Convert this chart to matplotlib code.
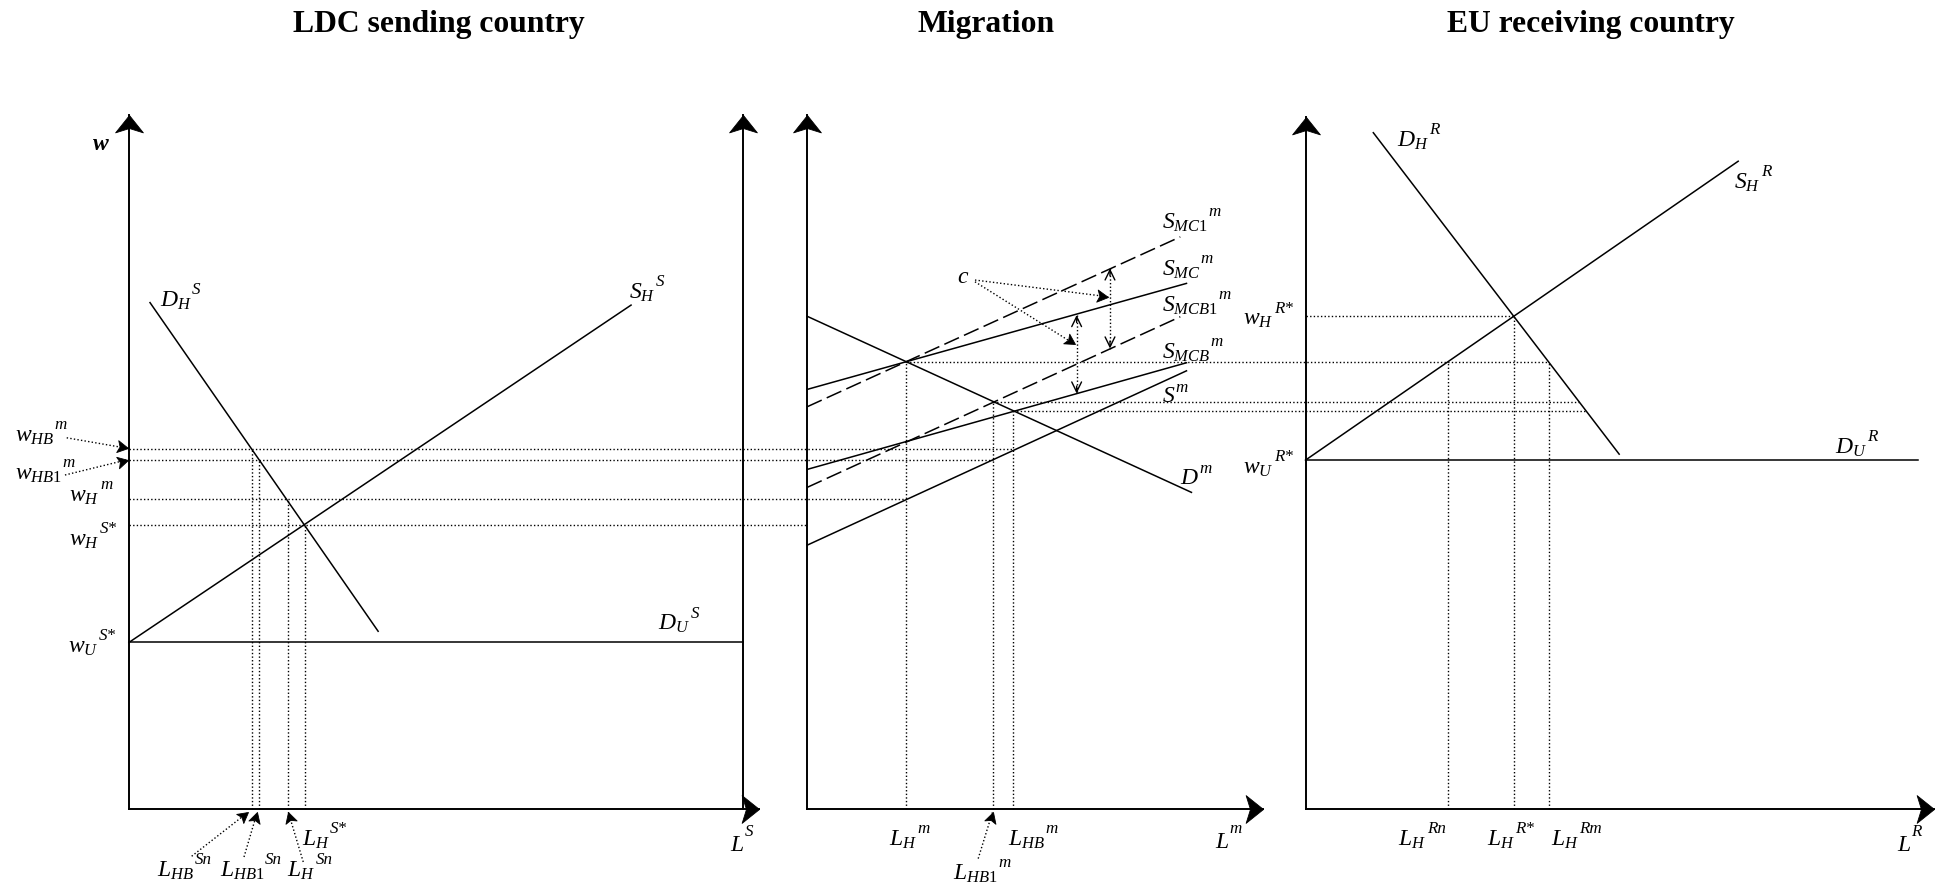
import numpy as np
import matplotlib
matplotlib.use("Agg")
import matplotlib.pyplot as plt
from matplotlib.path import Path

plt.rcParams['font.family'] = 'Liberation Serif'
plt.rcParams['mathtext.fontset'] = 'custom'
plt.rcParams['mathtext.rm'] = 'Liberation Serif'
plt.rcParams['mathtext.it'] = 'Liberation Serif:italic'
plt.rcParams['mathtext.bf'] = 'Liberation Serif:bold:italic'

# ---- data (x: position along the sheet, w: height above the L axis) ----
titles = ["LDC sending country", "Migration", "EU receiving country"]
origin_x = [104, 651, 1053]        # where each w axis stands
axis_top = [559, 559, 558]
axis_len = [508, 368, 507]
right_axis_L = 495                 # second vertical axis of the sending panel

# sending country
DHS_L = [17, 201];   DHS_w = [408, 143]
SHS_L = [0, 405];    SHS_w = [134, 406]
DUS_L = [0, 495];    DUS_w = [134, 134]
w_HB_m, w_HB1_m, w_H_m, w_H_Sstar = 289.6, 281.5, 249.5, 228.5
L_HB_Sn, L_HB1_Sn, L_H_Sn, L_H_Sstar = 99, 105, 128, 142

# migration
Dm_L = [0, 310];     Dm_w = [397, 255]
SMC1_L = [0, 301];   SMC1_w = [324, 461]
SMC_L = [0, 306];    SMC_w = [338, 423.5]
SMCB1_L = [0, 301];  SMCB1_w = [259, 396.6]
SMCB_L = [0, 306];   SMCB_w = [273.5, 359.5]
Sm_L = [0, 306];     Sm_w = [212.4, 353]
L_H_m, L_HB1_m, L_HB_m = 80, 150, 166
w_MC, w_MCB1, w_MCB = 360.3, 327.7, 320.8

# receiving country
DHR_L = [54.7, 253]; DHR_w = [545, 285.8]
SHR_L = [0, 349];    SHR_w = [281, 522]
DUR_L = [0, 494];    DUR_w = [281, 281]
w_H_Rstar = 397.4
L_H_Rn, L_H_Rstar, L_H_Rm = 114.6, 168.2, 196.6

fig = plt.figure(figsize=(19.44, 8.88), dpi=100)
ax = fig.add_axes([0, 0, 1, 1])
ax.set_xlim(0, 1568)
ax.set_ylim(-64, 652)
ax.axis('off')
renderer = fig.canvas.get_renderer()

DOT = (0, (1, 1.6))
LW = 1.1


def stealth(x, y, ang, ms, half=0.8, notch=0.75):
    # filled notched arrow head with its tip on (x, y), pointing at angle ang
    v = np.array([[0, 0], [-1, half], [-notch, 0], [-1, -half], [0, 0]])
    c, s = np.cos(ang), np.sin(ang)
    v = v @ np.array([[c, s], [-s, c]])
    m = Path(v, [Path.MOVETO, Path.LINETO, Path.LINETO, Path.LINETO, Path.CLOSEPOLY])
    ax.plot([x], [y], marker=m, ms=ms, color='k', mec='k', mew=0.6, zorder=5)


def curve(p, L, w, **kw):
    kw.setdefault('color', 'k')
    kw.setdefault('lw', LW)
    ax.plot(origin_x[p] + np.array(L), np.array(w), **kw)


def hdot(x1, x2, w):
    ax.plot([x1, x2], [w, w], color='k', lw=1.0, ls=DOT)


def vdot(x, w):
    ax.plot([x, x], [0, w], color='k', lw=1.0, ls=DOT)


def dot_arrow(p0, p1):
    ax.plot([p0[0], p1[0]], [p0[1], p1[1]], color='k', lw=1.0, ls=DOT)
    ang = np.arctan2(p1[1] - p0[1], p1[0] - p0[0])
    stealth(p1[0], p1[1], ang, 17, half=0.55, notch=0.78)


def dbl_arrow(x, w1, w2):
    ax.plot([x, x], [w1, w2], color='k', lw=1.0, ls=DOT)
    for a, b in ((w1, w2), (w2, w1)):
        d = 1 if b > a else -1
        ax.annotate('', xy=(x, b), xytext=(x, b - d * 6),
                    arrowprops=dict(arrowstyle='->,head_length=0.45,head_width=0.22',
                                    color='k', lw=1.0, shrinkA=0, shrinkB=0,
                                    mutation_scale=16))


def axis_arrow(x0, y0, x1, y1):
    ax.plot([x0, x1], [y0, y1], color='k', lw=1.4)
    stealth(x1, y1, np.arctan2(y1 - y0, x1 - x0), 25)


# axes
for p in range(3):
    axis_arrow(origin_x[p], 0, origin_x[p], axis_top[p])
    axis_arrow(origin_x[p], 0, origin_x[p] + axis_len[p], 0)
axis_arrow(origin_x[0] + right_axis_L, 0, origin_x[0] + right_axis_L, axis_top[0])

# titles
for t, xc in zip(titles, [354, 795, 1283]):
    ax.text(xc, 626.5, t, ha='center', va='baseline', fontsize=22.8, fontweight='bold')

# sending country
curve(0, DHS_L, DHS_w)
curve(0, SHS_L, SHS_w)
curve(0, DUS_L, DUS_w)
x0 = origin_x[0]
hdot(x0, origin_x[1] + L_HB_m, w_HB_m)
hdot(x0, origin_x[1] + L_HB1_m, w_HB1_m)
hdot(x0, origin_x[1] + L_H_m, w_H_m)
hdot(x0, origin_x[1], w_H_Sstar)
vdot(x0 + L_HB_Sn, w_HB_m)
vdot(x0 + L_HB1_Sn, w_HB1_m)
vdot(x0 + L_H_Sn, w_H_m)
vdot(x0 + L_H_Sstar, w_H_Sstar)

# migration
curve(1, Dm_L, Dm_w)
curve(1, SMC1_L, SMC1_w, dashes=(10.5, 3.6))
curve(1, SMC_L, SMC_w)
curve(1, SMCB1_L, SMCB1_w, dashes=(10.5, 3.6))
curve(1, SMCB_L, SMCB_w)
curve(1, Sm_L, Sm_w)
x1 = origin_x[1]
x2 = origin_x[2]
vdot(x1 + L_H_m, w_MC)
vdot(x1 + L_HB1_m, w_MCB1)
vdot(x1 + L_HB_m, w_MCB)
hdot(x1 + L_H_m, x2 + L_H_Rm, w_MC)
hdot(x1 + L_HB1_m, 1274, w_MCB1)
hdot(x1 + L_HB_m, 1279, w_MCB)
dot_arrow((786.4, 426.2), (893.9, 412.7))
dot_arrow((786.4, 424.8), (867, 374.3))
dbl_arrow(895.3, 435.6, 371)
dbl_arrow(868.4, 398, 334.7)

# receiving country
curve(2, DHR_L, DHR_w)
curve(2, SHR_L, SHR_w)
curve(2, DUR_L, DUR_w)
hdot(x2, x2 + L_H_Rstar, w_H_Rstar)
vdot(x2 + L_H_Rn, w_MC)
vdot(x2 + L_H_Rstar, w_H_Rstar)
vdot(x2 + L_H_Rm, w_MC)

# label arrows
dot_arrow((53.8, 299), (103.5, 290.4))
dot_arrow((52.4, 269), (103.5, 281.5))
dot_arrow((154.6, -38.4), (200.3, -2.7))
dot_arrow((196.8, -39), (207.5, -2.7))
dot_arrow((244.6, -43), (232.5, -2.7))
dot_arrow((789, -40.3), (800.6, -2.7))

FS = 17


def label(x, y, base, sup, rise=10):
    t = ax.text(x, y, base, fontsize=FS, ha='left', va='baseline')
    bb = t.get_window_extent(renderer)
    xr = ax.transData.inverted().transform((bb.x1, bb.y0))[0]
    ax.text(xr + 0.3, y + rise, sup, fontsize=FS * 0.72, style='italic',
            ha='left', va='baseline')


ax.text(74, 531, r'$\mathbf{w}$', fontsize=FS, ha='left', va='baseline')
ax.text(771.6, 423.5, r'$c$', fontsize=FS, ha='left', va='baseline')

labels = [
    (129, 405, r'$D_H$', 'S', 10),
    (507, 411, r'$S_H$', 'S', 10),
    (531, 144, r'$D_U$', 'S', 10),
    (55, 126, r'$w_U$', 'S*', 10),
    (56, 212.4, r'$w_H$', 'S*', 10),
    (56, 247.4, r'$w_H$', 'm', 10),
    (12, 265.4, r'$w_{HB\mathit{1}}$', 'm', 10),
    (12, 295.8, r'$w_{HB}$', 'm', 10),
    (127, -55, r'$L_{HB}$', 'Sn', 10),
    (177.5, -55, r'$L_{HB\mathit{1}}$', 'Sn', 10),
    (231.8, -55, r'$L_H$', 'Sn', 10),
    (243.3, -29.5, r'$L_H$', 'S*', 10),
    (589, -34, r'$L$', 'S', 12),
    (717.3, -29.5, r'$L_H$', 'm', 10),
    (813, -29.5, r'$L_{HB}$', 'm', 10),
    (768.8, -57, r'$L_{HB\mathit{1}}$', 'm', 10),
    (980, -32, r'$L$', 'm', 12),
    (1128, -29.5, r'$L_H$', 'Rn', 10),
    (1199, -29.5, r'$L_H$', 'R*', 10),
    (1251, -29.5, r'$L_H$', 'Rm', 10),
    (1530, -34, r'$L$', 'R', 12),
    (1002.8, 390, r'$w_H$', 'R*', 10),
    (1002.8, 270, r'$w_U$', 'R*', 10),
    (1126.5, 534, r'$D_H$', 'R', 10),
    (1398.5, 500, r'$S_H$', 'R', 10),
    (1480, 286.4, r'$D_U$', 'R', 10),
    (952, 262, r'$D$', 'm', 9),
    (937, 328, r'$S$', 'm', 8),
    (937, 363, r'$S_{MCB}$', 'm', 10),
    (937, 400.6, r'$S_{MCB\mathit{1}}$', 'm', 10),
    (937, 430, r'$S_{MC}$', 'm', 10),
    (937, 468, r'$S_{MC\mathit{1}}$', 'm', 10),
]
for x, y, b, s, r in labels:
    label(x, y, b, s, r)

fig.savefig('out.png', dpi=100)
